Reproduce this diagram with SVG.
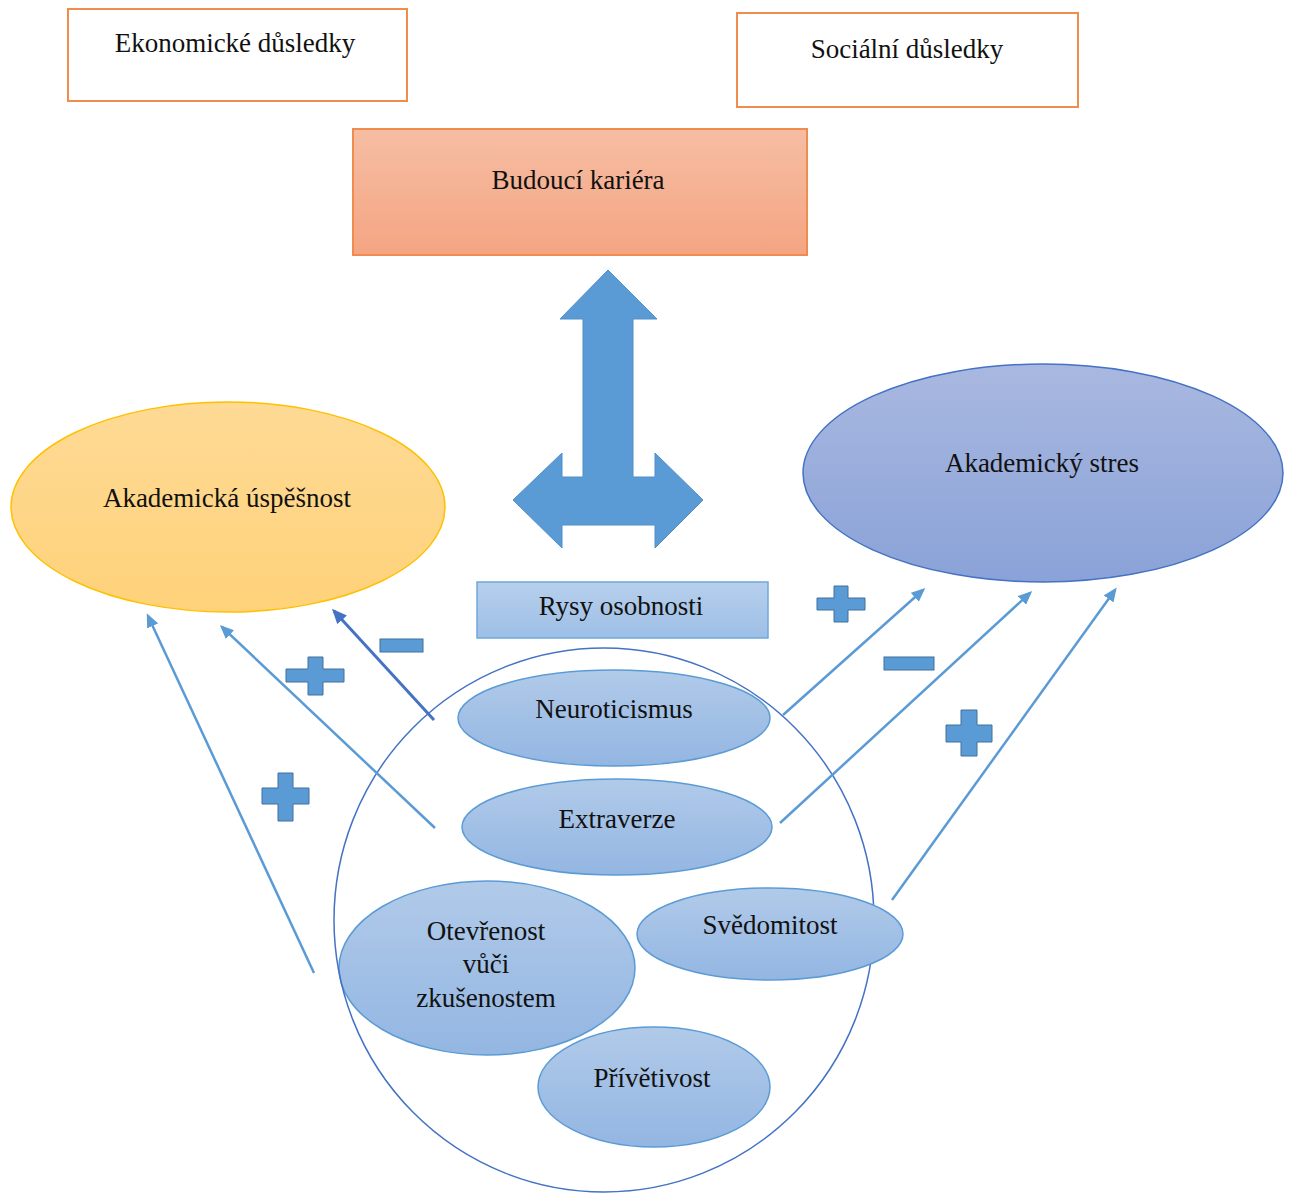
<svg xmlns="http://www.w3.org/2000/svg" width="1293" height="1195" viewBox="0 0 1293 1195">
<defs>
<style>
text{font-family:"Liberation Serif","Times New Roman",serif;font-size:27px;fill:#111;text-anchor:middle}
.obox{fill:#fff;stroke:#F08C4E;stroke-width:2}
.trait{fill:url(#gTrait);stroke:#5B9BD5;stroke-width:1.5}
.conn{stroke:#5B9BD5;stroke-width:2.5;fill:none;marker-end:url(#ah)}
.connd{stroke:#4472C4;stroke-width:3;fill:none;marker-end:url(#ahd)}
.sign{fill:#5B9BD5;stroke:#41719C;stroke-width:1}
</style>
<linearGradient id="gCareer" x1="0" y1="0" x2="0" y2="1"><stop offset="0" stop-color="#F6BDA3"/><stop offset="1" stop-color="#F4A582"/></linearGradient>
<linearGradient id="gSuccess" x1="0" y1="0" x2="0" y2="1"><stop offset="0" stop-color="#FEDA95"/><stop offset="1" stop-color="#FFD27A"/></linearGradient>
<linearGradient id="gStress" x1="0" y1="0" x2="0" y2="1"><stop offset="0" stop-color="#A9B8E0"/><stop offset="1" stop-color="#8AA2D8"/></linearGradient>
<linearGradient id="gTrait" x1="0" y1="0" x2="0" y2="1"><stop offset="0" stop-color="#B1CAE9"/><stop offset="1" stop-color="#93B6E2"/></linearGradient>
<linearGradient id="gRysy" x1="0" y1="0" x2="0" y2="1"><stop offset="0" stop-color="#B7CFEC"/><stop offset="1" stop-color="#9DBFE6"/></linearGradient>
<marker id="ah" markerUnits="userSpaceOnUse" markerWidth="14" markerHeight="12" refX="11" refY="6" orient="auto"><path d="M0,0 L14,6 L0,12 z" fill="#5B9BD5"/></marker>
<marker id="ahd" markerUnits="userSpaceOnUse" markerWidth="15" markerHeight="13" refX="12" refY="6.5" orient="auto"><path d="M0,0 L15,6.5 L0,13 z" fill="#4472C4"/></marker>
</defs>
<rect width="1293" height="1195" fill="#fff"/>

<g id="ekonomicke">
<rect class="obox" x="68" y="9" width="339" height="92"/>
<text x="235" y="52">Ekonomické důsledky</text>
</g>
<g id="socialni">
<rect class="obox" x="737" y="13" width="341" height="94"/>
<text x="907" y="58">Sociální důsledky</text>
</g>
<g id="kariera">
<rect x="353" y="129" width="454" height="126" fill="url(#gCareer)" stroke="#F08C4E" stroke-width="2"/>
<text x="578" y="189">Budoucí kariéra</text>
</g>
<g id="velka-sipka">
<polygon points="608,270 657,319 633,319 633,477 655,477 655,453 703,500 655,548 655,525 562,525 562,548 513,500 562,453 562,477 583,477 583,319 560,319" fill="#5B9BD5" stroke="#4F8FCB" stroke-width="1"/>
</g>
<g id="uspesnost">
<ellipse cx="228" cy="507" rx="217" ry="105" fill="url(#gSuccess)" stroke="#FFC000" stroke-width="1.5"/>
<text x="227" y="507">Akademická úspěšnost</text>
</g>
<g id="stres">
<ellipse cx="1043" cy="473" rx="240" ry="109" fill="url(#gStress)" stroke="#4472C4" stroke-width="1.5"/>
<text x="1042" y="472">Akademický stres</text>
</g>
<g id="rysy">
<rect x="477" y="582" width="291" height="56" fill="url(#gRysy)" stroke="#6FA8DC" stroke-width="1.5"/>
<text x="621" y="615">Rysy osobnosti</text>
</g>
<g id="neuroticismus">
<ellipse class="trait" cx="614" cy="718" rx="156" ry="48"/>
<text x="614" y="718">Neuroticismus</text>
</g>
<g id="extraverze">
<ellipse class="trait" cx="617" cy="827" rx="155" ry="48"/>
<text x="617" y="828">Extraverze</text>
</g>
<g id="otevrenost">
<ellipse class="trait" cx="487" cy="968" rx="148" ry="87"/>
<text x="486" y="940">Otevřenost</text>
<text x="486" y="973">vůči</text>
<text x="486" y="1007">zkušenostem</text>
</g>
<g id="kruh">
<ellipse cx="604" cy="920" rx="270" ry="272" fill="none" stroke="#4472C4" stroke-width="1.5"/>
</g>
<g id="svedomitost">
<ellipse class="trait" cx="770" cy="934" rx="133" ry="46"/>
<text x="770" y="934">Svědomitost</text>
</g>
<g id="privetivost">
<ellipse class="trait" cx="654" cy="1087" rx="116" ry="60"/>
<text x="652" y="1087">Přívětivost</text>
</g>

<g id="connectors">
<line class="conn" x1="314" y1="973" x2="148" y2="616"/>
<line class="conn" x1="435" y1="828" x2="222" y2="627"/>
<line class="connd" x1="434" y1="720" x2="334" y2="611"/>
<line class="conn" x1="783" y1="715" x2="923" y2="590"/>
<line class="conn" x1="780" y1="823" x2="1030" y2="593"/>
<line class="conn" x1="892" y1="900" x2="1115" y2="590"/>
</g>

<g id="znaminka">
<polygon class="sign" points="308,657 323,657 323,669 344,669 344,682 323,682 323,695 308,695 308,682 286,682 286,669 308,669"/>
<polygon class="sign" points="278,773 293,773 293,788 309,788 309,804 293,804 293,821 278,821 278,804 262,804 262,788 278,788"/>
<rect class="sign" x="380" y="639" width="43" height="13"/>
<polygon class="sign" points="834,586 848,586 848,598 865,598 865,610 848,610 848,622 834,622 834,610 817,610 817,598 834,598"/>
<rect class="sign" x="884" y="657" width="50" height="13"/>
<polygon class="sign" points="961,710 977,710 977,725 992,725 992,742 977,742 977,756 961,756 961,742 946,742 946,725 961,725"/>
</g>
</svg>
